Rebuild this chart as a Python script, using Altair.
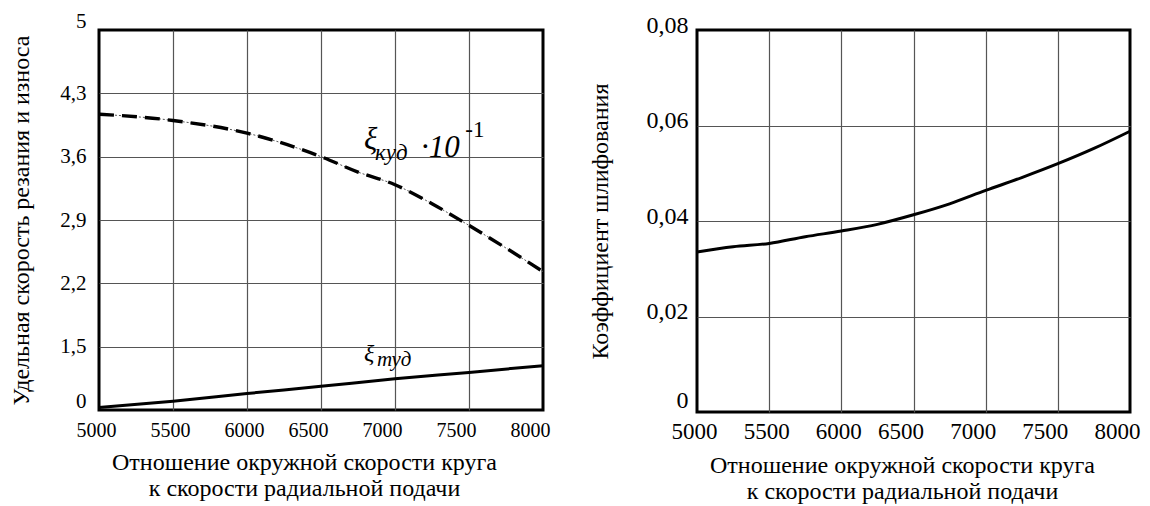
import altair as alt
import pandas as pd

FONT = "Liberation Serif"

# ---------------- data ----------------
x_ticks = [5000, 5500, 6000, 6500, 7000, 7500, 8000]

# left panel: xi_kud * 10^-1 (dashed) and xi_tud (solid)
kud_x = [5000, 5500, 6000, 6500, 6750, 7000, 7250, 7500, 7750, 8000]
kud_y = [4.07, 4.00, 3.86, 3.60, 3.43, 3.29, 3.08, 2.84, 2.59, 2.33]

tud_x = [5000, 5500, 6000, 6500, 7000, 7500, 8000]
tud_y = [0.06, 0.21, 0.39, 0.56, 0.74, 0.89, 1.05]

left_y_ticks = [0, 1.5, 2.2, 2.9, 3.6, 4.3, 5]

# right panel: grinding coefficient
k_x = [5000, 5250, 5500, 5750, 6000, 6250, 6500, 6750, 7000, 7250, 7500, 7750, 8000]
k_y = [0.0335, 0.0346, 0.0353, 0.0367, 0.0379, 0.0393, 0.0413, 0.0436,
       0.0464, 0.0491, 0.0520, 0.0552, 0.0588]
right_y_ticks = [0, 0.02, 0.04, 0.06, 0.08]

x_title = ["Отношение окружной скорости круга", "к скорости радиальной подачи"]
left_y_title = "Удельная скорость резания и износа"
right_y_title = "Коэффициент шлифования"

# curve labels (italic pieces and upright exponent)
ann_text = ["ξ", "куд", "·10", "ξ", "туд"]
ann_x = [6790, 6865, 7175, 6791, 6878]
ann_y = [3.78, 3.64, 3.70, 1.33, 1.18]
ann_size = [31, 23, 31, 24, 21]
exp_text = ["-1"]
exp_x = [7475]
exp_y = [3.89]
exp_size = [23]

# ---------------- frames ----------------
kud_df = pd.DataFrame({"x": kud_x, "y": kud_y})
tud_df = pd.DataFrame({"x": tud_x, "y": tud_y})
k_df = pd.DataFrame({"x": k_x, "y": k_y})
ann_df = pd.DataFrame({"x": ann_x, "y": ann_y, "t": ann_text, "s": ann_size})
exp_df = pd.DataFrame({"x": exp_x, "y": exp_y, "t": exp_text, "s": exp_size})

LW, LH = 444, 380
RW, RH = 433, 382
TITLE_SIZE = 24

edge_x = {"condition": {"test": "datum.value == 5000 || datum.value == 8000", "value": 0}, "value": 1}
x_label_shift = {"condition": {"test": "datum.value >= 6500", "value": -13}, "value": -3}

def x_enc(label_size, label_pad, title_x):
    return alt.X(
        "x:Q",
        scale=alt.Scale(domain=[5000, 8000], nice=False, zero=False),
        axis=alt.Axis(
            values=x_ticks, format="d", title=x_title,
            labelFont=FONT, titleFont=FONT,
            labelFontSize=label_size, labelPadding=label_pad,
            labelOverlap=False, labelFlush=False, labelOffset=x_label_shift,
            titleFontSize=TITLE_SIZE, titlePadding=10, titleLineHeight=26,
            titleX=title_x,
            gridOpacity=edge_x,
        ),
    )

left_range = [LH - i * LH / (len(left_y_ticks) - 1) for i in range(len(left_y_ticks))]
left_y = alt.Y(
    "y:Q",
    scale=alt.Scale(domain=left_y_ticks, range=left_range, nice=False, zero=False),
    axis=alt.Axis(
        values=left_y_ticks, title=left_y_title,
        labelFont=FONT, titleFont=FONT,
        labelExpr="replace(toString(datum.value), '.', ',')",
        labelFontSize=21, labelPadding=13, labelOverlap=False, labelFlush=False,
        labelOffset={"condition": {"test": "datum.value == 0 || datum.value == 5", "value": -9}, "value": 0},
        titleFontSize=TITLE_SIZE, titlePadding=26,
        gridOpacity={"condition": {"test": "datum.value == 0 || datum.value == 5", "value": 0}, "value": 1},
    ),
)

right_y = alt.Y(
    "y:Q",
    scale=alt.Scale(domain=[0, 0.08], nice=False, zero=False),
    axis=alt.Axis(
        values=right_y_ticks, title=right_y_title,
        labelFont=FONT, titleFont=FONT,
        labelExpr="datum.value == 0 ? '0' : replace(format(datum.value, '.2f'), '.', ',')",
        labelFontSize=24, labelPadding=9, labelOverlap=False, labelFlush=False,
        labelOffset={"condition": {"test": "datum.value == 0", "value": -12}, "value": -5},
        titleFontSize=TITLE_SIZE, titlePadding=34,
        gridOpacity={"condition": {"test": "datum.value == 0 || datum.value == 0.08", "value": 0}, "value": 1},
    ),
)

lx = x_enc(20, 10, 205)
kud_thin = alt.Chart(kud_df).mark_line(
    color="#555", strokeWidth=1, strokeDash=[2, 2], interpolate="monotone"
).encode(x=lx, y=left_y)
kud_thick = alt.Chart(kud_df).mark_line(
    color="black", strokeWidth=3.4, strokeDash=[15, 8], interpolate="monotone"
).encode(x=lx, y=left_y)
tud_line = alt.Chart(tud_df).mark_line(
    color="black", strokeWidth=3, interpolate="monotone"
).encode(x=lx, y=left_y)
ann = alt.Chart(ann_df).mark_text(
    font=FONT, fontStyle="italic", align="left", baseline="middle", color="black"
).encode(x=lx, y=left_y, text="t:N", size=alt.Size("s:Q", scale=None, legend=None))
exp = alt.Chart(exp_df).mark_text(
    font=FONT, align="left", baseline="middle", color="black"
).encode(x=lx, y=left_y, text="t:N", size=alt.Size("s:Q", scale=None, legend=None))

left = alt.layer(kud_thin, kud_thick, tud_line, ann, exp).properties(width=LW, height=LH)

rx = x_enc(23, 8, 205)
right = alt.Chart(k_df).mark_line(
    color="black", strokeWidth=3, interpolate="monotone"
).encode(x=rx, y=right_y).properties(width=RW, height=RH)

chart = alt.hconcat(left, right, spacing=34).properties(
    padding={"left": 0, "top": 0, "right": 0, "bottom": 0},
    background="white",
).configure_view(
    stroke="black", strokeWidth=3
).configure_axis(
    labelFont=FONT, titleFont=FONT, labelColor="black", titleColor="black",
    titleFontWeight="normal", domain=False, ticks=False, tickSize=0,
    gridColor="#555", gridWidth=1.2,
)

chart.save("out.html", embed_options={"renderer": "svg", "actions": False})
